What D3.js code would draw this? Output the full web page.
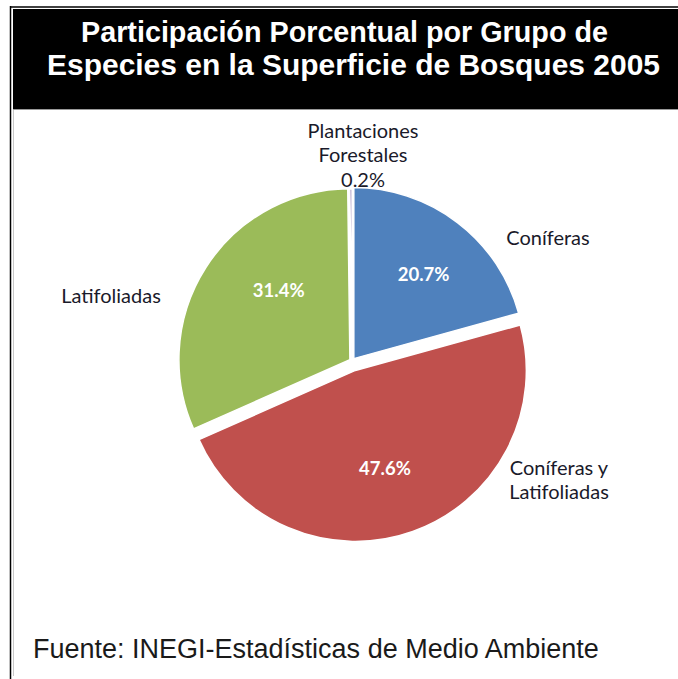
<!DOCTYPE html>
<html>
<head>
<meta charset="utf-8">
<script src="https://cdn.jsdelivr.net/npm/d3@7"></script>
<style>
  html, body { margin: 0; padding: 0; background: #fff; }
  svg { display: block; }
</style>
</head>
<body>
<svg id="chart" width="678" height="679"></svg>
<script>
// ---- data ----
const categories = ["Coníferas", "Coníferas y Latifoliadas", "Latifoliadas", "Plantaciones Forestales"];
const values = [20.7, 47.6, 31.4, 0.2];
const valueLabels = ["20.7%", "47.6%", "31.4%", "0.2%"];
const labelLines = [["Coníferas"], ["Coníferas y", "Latifoliadas"], ["Latifoliadas"], ["Plantaciones", "Forestales", "0.2%"]];
const colors = ["#4f81bd", "#c0504d", "#9bbb59", "#8064a2"];
const titleLines = ["Participación Porcentual por Grupo de", "Especies en la Superficie de Bosques 2005"];
const sourceText = "Fuente: INEGI-Estadísticas de Medio Ambiente";

// ---- layout ----
const W = 678, H = 679;
const cx = 352, cy = 361, R = 171;
const explode = [3, 10, 2.5, 1];
// outside label anchor offsets relative to pie centre (layout only)
const outside = [
  {dx: 196, dy: -123},
  {dx: 207, dy: 119},
  {dx: -241, dy: -65},
  {dx: 11, dy: -206}
];
// inside label polar positions (angle offset in rad, radius factor)
const insideShift = [[0.04, 0.64], [0.05, 0.6], [0.2, 0.58]];

const svg = d3.select("#chart");

// frame
svg.append("line").attr("x1", 10.5).attr("x2", 10.5).attr("y1", 6).attr("y2", H)
  .attr("stroke", "#000").attr("stroke-width", 1.5);
svg.append("line").attr("x1", 13.5).attr("x2", 13.5).attr("y1", 110).attr("y2", 676)
  .attr("stroke", "#c8c8c8").attr("stroke-width", 1);
svg.append("line").attr("x1", 10).attr("x2", W).attr("y1", 7).attr("y2", 7)
  .attr("stroke", "#000").attr("stroke-width", 1.5);

// title box
svg.append("rect").attr("x", 13).attr("y", 9).attr("width", W - 13).attr("height", 100).attr("fill", "#000");
svg.append("line").attr("x1", 13).attr("x2", W).attr("y1", 109.5).attr("y2", 109.5)
  .attr("stroke", "#999").attr("stroke-width", 1);
const titleX = [81, 47];
const titleW = [527, 613];
svg.append("g").selectAll("text").data(titleLines).join("text")
  .attr("x", (d, i) => titleX[i]).attr("y", (d, i) => 41.5 + i * 33.5)
  .attr("textLength", (d, i) => titleW[i]).attr("lengthAdjust", "spacingAndGlyphs")
  .attr("font-family", "'Liberation Sans', Arial, sans-serif")
  .attr("font-weight", "bold").attr("font-size", 29)
  .attr("fill", "#fff")
  .text(d => d);

// pie
const pie = d3.pie().sort(null).value(d => d)
  .startAngle(0).endAngle(2 * Math.PI);
const arcs = pie(values);
const arc = d3.arc().innerRadius(0).outerRadius(R);

const g = svg.append("g").attr("transform", `translate(${cx},${cy})`);
const sl = g.selectAll("g.slice").data(arcs).join("g").attr("class", "slice")
  .attr("transform", (d, i) => {
    const a = (d.startAngle + d.endAngle) / 2;
    return `translate(${Math.sin(a) * explode[i]},${-Math.cos(a) * explode[i]})`;
  });
sl.append("path").attr("d", arc)
  .attr("fill", (d, i) => colors[i])
  .attr("stroke", "#fff").attr("stroke-width", 1.5);

// inside value labels (all but the tiny slice)
sl.filter((d, i) => i < 3).append("text")
  .attr("transform", (d, i) => {
    const a = (d.startAngle + d.endAngle) / 2 + insideShift[i][0];
    const r = R * insideShift[i][1];
    return `translate(${Math.sin(a) * r},${-Math.cos(a) * r})`;
  })
  .attr("text-anchor", "middle").attr("dy", "0.35em")
  .attr("font-family", "Lato, 'Open Sans', sans-serif")
  .attr("font-size", 18.5).attr("font-weight", "bold").attr("fill", "#fff")
  .text((d, i) => valueLabels[i]);

// outside category labels
const ol = g.selectAll("text.cat").data(arcs).join("text").attr("class", "cat")
  .attr("font-family", "Lato, 'Open Sans', sans-serif")
  .attr("font-size", 20).attr("fill", "#1a1a2a")
  .attr("text-anchor", "middle");
ol.each(function (d, i) {
  const lines = labelLines[i];
  const t = d3.select(this);
  const y0 = outside[i].dy - (lines.length - 1) * 24.5 / 2;
  lines.forEach((ln, k) => {
    t.append("tspan").attr("x", outside[i].dx).attr("y", y0 + k * 24.5).attr("dy", "0.35em").text(ln);
  });
});

// source
svg.append("text").attr("x", 33).attr("y", 658)
  .attr("font-family", "'Liberation Sans', Arial, sans-serif")
  .attr("font-size", 27).attr("fill", "#1a1a1a")
  .text(sourceText);
</script>
</body>
</html>
